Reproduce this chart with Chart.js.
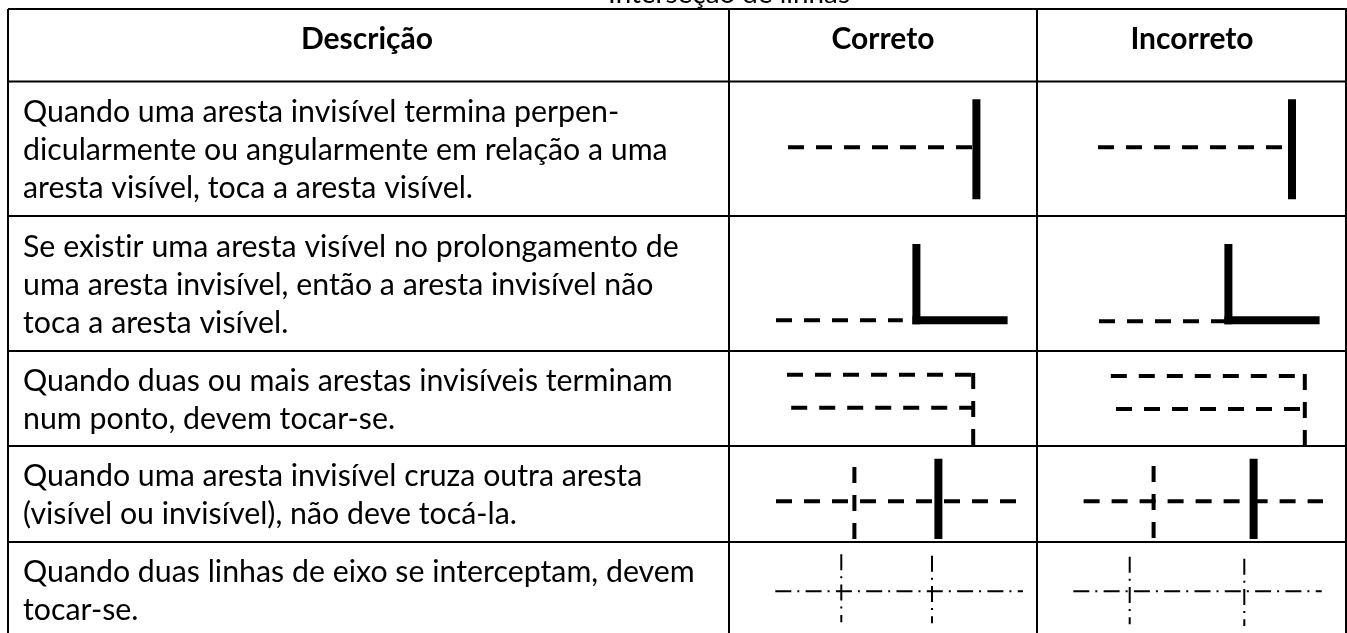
<!DOCTYPE html>
<html lang="pt">
<head>
<meta charset="utf-8">
<title>Interseção de linhas</title>
<script src="https://cdn.jsdelivr.net/npm/chart.js@4/dist/chart.umd.min.js"></script>
<style>
html, body { margin: 0; padding: 0; background: #fff; overflow: hidden; }
#wrap { position: absolute; left: 0; top: 0; width: 1347px; height: 633px; }
</style>
</head>
<body>
<div id="wrap"><canvas id="chart"></canvas></div>
<script>
// picture units: x 0-1347, y 0-633
const titleLabel = ["Interseção de linhas"];
const headerLabels = ["Descrição", "Correto", "Incorreto"];
const headerX = [367, 883, 1192];
const descriptionLines = [
    "Quando uma aresta invisível termina perpen-",
    "dicularmente ou angularmente em relação a uma",
    "aresta visível, toca a aresta visível.",
    "Se existir uma aresta visível no prolongamento de",
    "uma aresta invisível, então a aresta invisível não",
    "toca a aresta visível.",
    "Quando duas ou mais arestas invisíveis terminam",
    "num ponto, devem tocar-se.",
    "Quando uma aresta invisível cruza outra aresta",
    "(visível ou invisível), não deve tocá-la.",
    "Quando duas linhas de eixo se interceptam, devem",
    "tocar-se."
];
const descriptionY = [112.5, 150.5, 188.5, 247, 285, 323, 381, 419, 476, 514, 572, 610];

const ruleRowsY = [9, 81.5, 216, 351, 446, 542];
const ruleColsX = [8, 729, 1037, 1346];

// each list: [x1, y1, x2, y2]
const visibleEdges = [
    [976.4, 99.3, 976.4, 199.3],
    [1292, 99.3, 1292, 199.3],
    [916.4, 244, 916.4, 324.3],
    [912.4, 320.3, 1007.6, 320.3],
    [1228.4, 244, 1228.4, 324.3],
    [1224.4, 320.3, 1319.6, 320.3],
    [938.4, 458.7, 938.4, 539],
    [1253.6, 458.7, 1253.6, 539]
];
const hiddenEdges = [
    [788, 147.3, 972.8, 147.3],
    [1098, 147.3, 1282, 147.3],
    [776, 320.3, 902.8, 320.3],
    [1099, 321.3, 1226, 321.3],
    [787, 374.7, 975, 374.7],
    [791.2, 407.7, 975, 407.7],
    [973.2, 373, 973.2, 445],
    [1110.8, 376, 1295.6, 376],
    [1116, 409, 1302, 409],
    [1304.8, 374, 1304.8, 445],
    [776, 501.3, 1016, 501.3],
    [854.4, 467, 854.4, 539],
    [1083.6, 501.3, 1323, 501.3],
    [1153.6, 466, 1153.6, 538]
];
const axisLines = [
    [775.3, 591.3, 1023, 591.3],
    [841.3, 554.3, 841.3, 622.3],
    [932, 555.7, 932, 623.3],
    [1073.3, 591.3, 1321.7, 591.3],
    [1129.7, 556.7, 1129.7, 624.3],
    [1244.3, 558.7, 1244.3, 626]
];

const fontBase = "Lato";

function segment(seg, width, dash) {
    return {
        data: [{ x: seg[0], y: seg[1] }, { x: seg[2], y: seg[3] }],
        showLine: true,
        borderColor: "#000",
        borderWidth: width,
        borderDash: dash,
        pointRadius: 0,
        tension: 0
    };
}

const Table = {
    datasets: function() {
        const sets = [];
        ruleRowsY.forEach(y => sets.push(segment([ruleColsX[0], y, 1347, y], 2, [])));
        ruleColsX.forEach(x => sets.push(segment([x, ruleRowsY[0], x, 633], 2, [])));
        visibleEdges.forEach(s => sets.push(segment(s, 8, [])));
        hiddenEdges.forEach(s => sets.push(segment(s, 4, [16, 12])));
        axisLines.forEach(s => sets.push(segment(s, 2, [16, 6, 2, 6.3])));
        return sets;
    }
};

const tableText = {
    id: "tableText",
    afterDatasetsDraw(chart) {
        const ctx = chart.ctx;
        const sx = chart.scales.x;
        const sy = chart.scales.y;
        ctx.save();
        ctx.fillStyle = "#000";
        // small spacing keeps the "ti" ligature of Lato off
        ctx.letterSpacing = "0.01px";

        ctx.textAlign = "center";
        ctx.textBaseline = "alphabetic";
        ctx.font = "27.8px " + fontBase;
        ctx.fillText(titleLabel[0], sx.getPixelForValue(729), sy.getPixelForValue(2.5));

        ctx.textBaseline = "middle";
        ctx.font = "bold 30px " + fontBase;
        headerLabels.forEach((t, i) => {
            ctx.fillText(t, sx.getPixelForValue(headerX[i]), sy.getPixelForValue(39));
        });

        ctx.textAlign = "left";
        ctx.font = "30.3px " + fontBase;
        descriptionLines.forEach((t, i) => {
            ctx.fillText(t, sx.getPixelForValue(23), sy.getPixelForValue(descriptionY[i]));
        });
        ctx.restore();
    }
};

new Chart(document.getElementById("chart").getContext("2d"), {
    type: "scatter",
    data: { datasets: Table.datasets() },
    options: {
        responsive: true,
        maintainAspectRatio: false,
        animation: false,
        layout: { padding: 0 },
        plugins: { legend: { display: false }, tooltip: { enabled: false } },
        scales: {
            x: { type: "linear", min: 0, max: 1347, display: false },
            y: { type: "linear", min: 0, max: 633, reverse: true, display: false }
        }
    },
    plugins: [tableText]
});
</script>
</body>
</html>
